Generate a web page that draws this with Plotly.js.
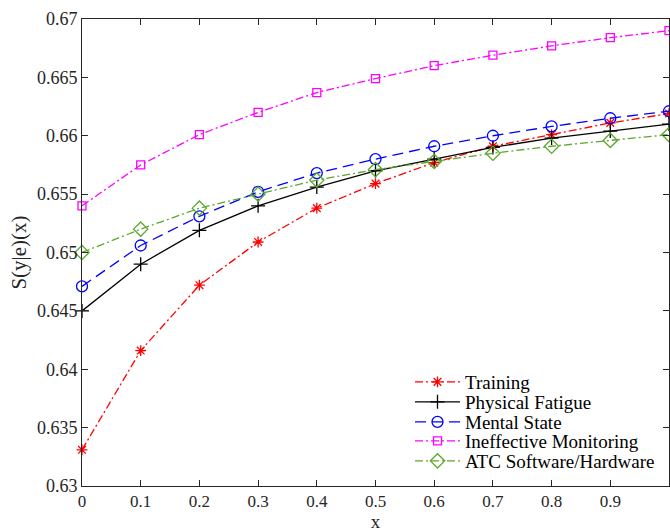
<!DOCTYPE html>
<html><head><meta charset="utf-8">
<script src="https://cdn.plot.ly/plotly-3.0.1.min.js"></script>
<style>html,body{margin:0;padding:0;background:#fff;}#chart{width:670px;height:532px;}</style>
</head><body><div id="chart"></div>
<script>
const xVals = [0, 0.1, 0.2, 0.3, 0.4, 0.5, 0.6, 0.7, 0.8, 0.9, 1];
const xTickLabels = ['0','0.1','0.2','0.3','0.4','0.5','0.6','0.7','0.8','0.9','1'];
const yTickVals = [0.63,0.635,0.64,0.645,0.65,0.655,0.66,0.665,0.67];
const yTickLabels = ['0.63','0.635','0.64','0.645','0.65','0.655','0.66','0.665','0.67'];
const seriesNames = ['Training','Physical Fatigue','Mental State','Ineffective Monitoring','ATC Software/Hardware'];
const training   = [0.6331, 0.6416, 0.6472, 0.6509, 0.6538, 0.6559, 0.6577, 0.6591, 0.6601, 0.6611, 0.6619];
const physical   = [0.6450, 0.6490, 0.6519, 0.6540, 0.6556, 0.6570, 0.6580, 0.6590, 0.6598, 0.6604, 0.6610];
const mental     = [0.6471, 0.6506, 0.6531, 0.6552, 0.6568, 0.6580, 0.6591, 0.6600, 0.6608, 0.6615, 0.6621];
const monitoring = [0.6540, 0.6575, 0.6601, 0.6620, 0.6637, 0.6649, 0.6660, 0.6669, 0.6677, 0.6684, 0.6690];
const atc        = [0.6500, 0.6520, 0.6538, 0.6550, 0.6562, 0.6571, 0.6578, 0.6585, 0.6591, 0.6596, 0.6601];

const styles = [
  {color:'#ff0000', dash:'8px,3px,2px,3px', symbol:'asterisk-open', size:9},
  {color:'#000000', dash:'solid', symbol:'cross-thin-open', size:10},
  {color:'#0000ff', dash:'11px,6px', symbol:'circle-open', size:11},
  {color:'#ff00ff', dash:'8px,3px,2px,3px', symbol:'square-open', size:8},
  {color:'#5aa82a', dash:'8px,3px,2px,3px', symbol:'diamond-open', size:11}
];
const legendIds = ['legend','legend2','legend3','legend4','legend5'];
const ys = [training, physical, mental, monitoring, atc];
const traces = ys.map((y,i)=>({
  x: xVals, y: y, name: seriesNames[i], type:'scatter', mode:'lines+markers',
  legend: legendIds[i],
  line:{color:styles[i].color, width:1.3, dash:styles[i].dash},
  marker:{symbol:styles[i].symbol, size:styles[i].size, color:styles[i].color, line:{color:styles[i].color, width:1.3}},
  cliponaxis:false
}));
const font = {family:'"Liberation Serif", "DejaVu Serif", serif', size:17, color:'#262626'};
const legendRowY = [382, 402, 422, 441, 461];
const layout = {
  width:670, height:532,
  margin:{l:82, r:1, t:19, b:46},
  paper_bgcolor:'#fff', plot_bgcolor:'#fff',
  font: font,
  showlegend:true,
  xaxis:{range:[0,1], tickvals:xVals, ticktext:xTickLabels, ticks:'inside', ticklen:6, tickcolor:'#262626',
         showline:true, linecolor:'#262626', linewidth:1, mirror:'ticks', showgrid:false, zeroline:false,
         tickfont:{family:font.family, size:17, color:'#262626'},
         title:{text:'x', font:{family:font.family, size:19, color:'#262626'}, standoff:5}},
  yaxis:{range:[0.63,0.67], tickvals:yTickVals, ticktext:yTickLabels, ticks:'inside', ticklen:6, tickcolor:'#262626',
         showline:true, linecolor:'#262626', linewidth:1, mirror:'ticks', showgrid:false, zeroline:false,
         tickfont:{family:font.family, size:18, color:'#262626'},
         title:{text:'S(y|e)(x)', font:{family:font.family, size:21, color:'#262626'}, standoff:4}}
};
legendIds.forEach((id,i)=>{
  layout[id] = {x:(410-82)/587, y:(486-legendRowY[i])/467, xanchor:'left', yanchor:'middle',
    bgcolor:'rgba(0,0,0,0)', borderwidth:0, itemwidth:45,
    font:{family:font.family, size:19, color:'#000'}};
});
Plotly.newPlot('chart', traces, layout, {displayModeBar:false, staticPlot:true});
</script></body></html>
